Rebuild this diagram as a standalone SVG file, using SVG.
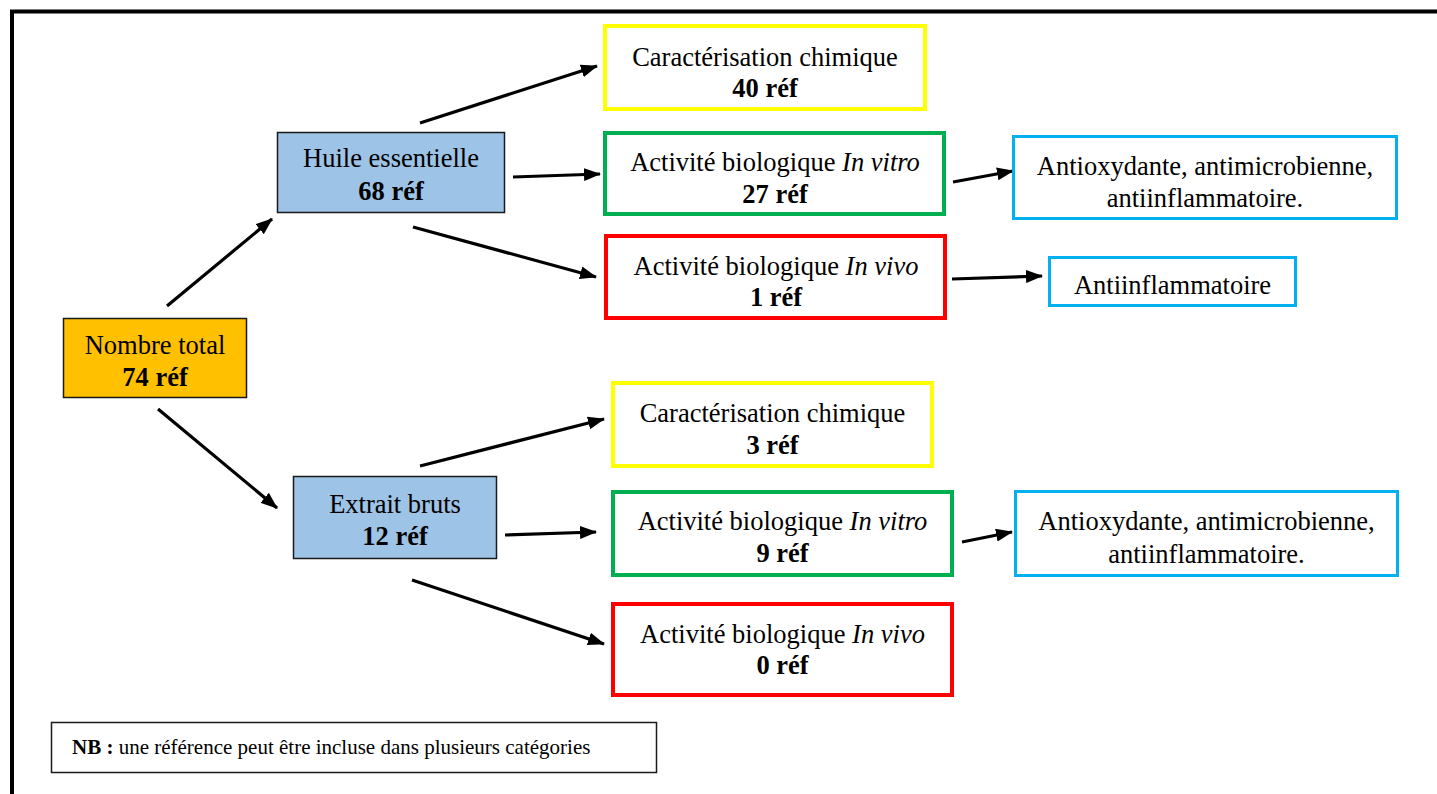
<svg xmlns="http://www.w3.org/2000/svg" width="1437" height="794" viewBox="0 0 1437 794">
<style>
text{font-family:"Liberation Serif","Times New Roman",serif;font-size:26.5px;fill:#000;text-anchor:middle}
.b{font-weight:bold}
.i{font-style:italic}
.box{fill:#fff;stroke-width:4}
.y{stroke:#FFFF00}.g{stroke:#00B050}.r{stroke:#FF0000}
.c{stroke:#00B0F0;stroke-width:3;fill:#fff}
.o{fill:#FFC000;stroke:#1a1a1a;stroke-width:1.5}
.lb{fill:#9DC3E6;stroke:#1a1a1a;stroke-width:1.5}
.nb{fill:#fff;stroke:#1a1a1a;stroke-width:1.5}
.nbt{font-size:21px;text-anchor:start}
#connectors line{stroke:#000;stroke-width:3.2;marker-end:url(#ah)}
</style>
<defs>
<marker id="ah" markerUnits="userSpaceOnUse" markerWidth="17" markerHeight="13" viewBox="0 0 17 13" refX="16" refY="6.5" orient="auto">
<path d="M0,0 L17,6.5 L0,13 z" fill="#000"/>
</marker>
</defs>
<rect width="1437" height="794" fill="#fff"/>
<rect x="12" y="11.5" width="1440" height="800" fill="none" stroke="#000" stroke-width="4"/>

<g id="connectors">
<line x1="167" y1="306" x2="272" y2="219"/>
<line x1="158" y1="409" x2="277" y2="508"/>
<line x1="420" y1="123" x2="597" y2="66"/>
<line x1="513" y1="177" x2="600" y2="174"/>
<line x1="413" y1="227" x2="596" y2="277"/>
<line x1="953" y1="182" x2="1013" y2="171"/>
<line x1="952" y1="279" x2="1042" y2="276"/>
<line x1="420" y1="466" x2="604" y2="419"/>
<line x1="505" y1="535" x2="596" y2="532"/>
<line x1="412" y1="580" x2="604" y2="644"/>
<line x1="962" y1="542" x2="1012" y2="532"/>
</g>

<g id="nombre-total">
<rect class="o" x="63.5" y="318.5" width="183" height="79"/>
<text x="155" y="354">Nombre total</text>
<text class="b" x="155" y="386">74 réf</text>
</g>

<g id="huile">
<rect class="lb" x="277.5" y="132.5" width="227" height="80"/>
<text x="391" y="167">Huile essentielle</text>
<text class="b" x="391" y="200">68 réf</text>
</g>

<g id="extrait">
<rect class="lb" x="293.5" y="476.5" width="203" height="82"/>
<text x="395" y="513">Extrait bruts</text>
<text class="b" x="395" y="545">12 réf</text>
</g>

<g id="carac-he">
<rect class="box y" x="605" y="26" width="320" height="83"/>
<text x="765" y="66">Caractérisation chimique</text>
<text class="b" x="765" y="97">40 réf</text>
</g>

<g id="vitro-he">
<rect class="box g" x="605" y="133" width="339" height="81"/>
<text x="775" y="171">Activité biologique <tspan class="i">In vitro</tspan></text>
<text class="b" x="775" y="203">27 réf</text>
</g>

<g id="vivo-he">
<rect class="box r" x="606" y="236" width="339" height="82"/>
<text x="776" y="275">Activité biologique <tspan class="i">In vivo</tspan></text>
<text class="b" x="776" y="306">1 réf</text>
</g>

<g id="antiox-he">
<rect class="c" x="1013.5" y="136.5" width="383" height="82"/>
<text x="1205" y="175">Antioxydante, antimicrobienne,</text>
<text x="1205" y="207">antiinflammatoire.</text>
</g>

<g id="antiinfl-he">
<rect class="c" x="1049.5" y="257.5" width="246" height="48"/>
<text x="1172.5" y="294">Antiinflammatoire</text>
</g>

<g id="carac-eb">
<rect class="box y" x="613" y="383" width="319" height="83"/>
<text x="772.5" y="422">Caractérisation chimique</text>
<text class="b" x="772.5" y="454">3 réf</text>
</g>

<g id="vitro-eb">
<rect class="box g" x="613" y="492" width="339" height="83"/>
<text x="782.5" y="530">Activité biologique <tspan class="i">In vitro</tspan></text>
<text class="b" x="782.5" y="562">9 réf</text>
</g>

<g id="antiox-eb">
<rect class="c" x="1015.5" y="491.5" width="382" height="84"/>
<text x="1206.5" y="530">Antioxydante, antimicrobienne,</text>
<text x="1206.5" y="563">antiinflammatoire.</text>
</g>

<g id="vivo-eb">
<rect class="box r" x="613" y="604" width="339" height="91"/>
<text x="782.5" y="643">Activité biologique <tspan class="i">In vivo</tspan></text>
<text class="b" x="782.5" y="674">0 réf</text>
</g>

<g id="nb">
<rect class="nb" x="51.5" y="722.5" width="605" height="50"/>
<text class="nbt" x="72" y="754"><tspan class="b">NB :</tspan> une référence peut être incluse dans plusieurs catégories</text>
</g>
</svg>
